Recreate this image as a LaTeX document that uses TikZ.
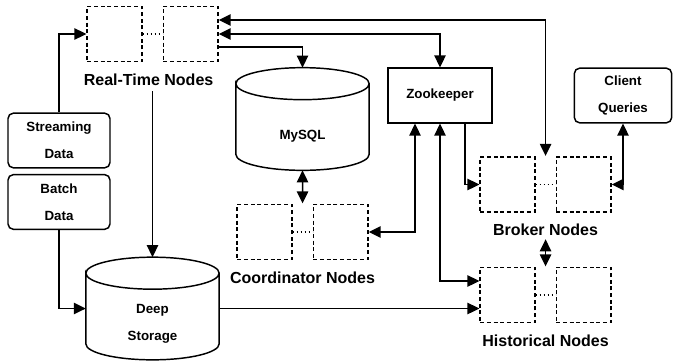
\documentclass[tikz,border=0pt]{standalone}
\usepackage{fontspec}
\setmainfont{Liberation Sans}
\usetikzlibrary{positioning, arrows.meta, calc, fit}

% draws a cylinder round an (empty) node
\newcommand{\drawcyl}[1]{%
  \draw[cylline] ($(#1.north west)+(0,-16)$) arc[start angle=180, end angle=-180, x radius=50pt, y radius=12pt]
    -- ($(#1.south west)+(0,16)$) arc[start angle=180, end angle=360, x radius=50pt, y radius=12pt]
    -- ($(#1.north east)+(0,-16)$);}

\begin{document}
\begin{tikzpicture}[
        x=0.75pt, y=0.75pt,
        node distance=15pt,
        thick,
        txt/.style={font=\bfseries\fontsize{10}{20}\selectfont, align=center},
        block/.style={txt, rectangle, draw, line width=1.1pt, minimum width=78pt, minimum height=41pt},
        source/.style={block, rounded corners=4pt, minimum width=76.5pt},
        server/.style={rectangle, draw, dashed, dash pattern=on 3pt off 2pt, line width=1.1pt, minimum width=41pt, minimum height=41pt},
        store/.style={rectangle, outer sep=0pt, minimum width=100pt, minimum height=77pt},
        cylline/.style={line width=1.1pt},
        group/.style={fit=#1, inner sep=0pt},
        lbl/.style={font=\bfseries\fontsize{12}{14}\selectfont, inner sep=0pt},
        dots/.style={draw, line width=1.1pt, dash pattern=on 1pt off 2pt},
        line/.style={draw, -{Triangle[length=9pt, width=8.5pt]}, line width=1.1pt},
        dline/.style={draw, {Triangle[length=9pt, width=8.5pt]}-{Triangle[length=9pt, width=8.5pt]}, line width=1.1pt}
    ]
        \useasboundingbox (0,0) rectangle (673,362);

        % Nodes
        \node [server] (rt1) at (114.5,328) {};
        \node [server, right=of rt1] (rt2) {};
        \node [group={(rt1)(rt2)}] (rt) {};
        \node [lbl, below=8pt of rt, xshift=-3pt] (rtlbl) {Real-Time Nodes};

        \node [source] (stream) at (59,221.5) {Streaming\\Data};
        \node [source, below=4pt of stream] (batch) {Batch\\Data};

        \node [store] (ds) at (152.5,53.5) {};
        \drawcyl{ds}
        \node [txt] (dstxt) at ($(ds.center)+(0,-15)$) {Deep\\Storage};

        \node [store] (my) at (302.5,243) {};
        \drawcyl{my}
        \node [txt] (mytxt) at ($(my.center)+(0,-17)$) {MySQL};

        \node [server] (c1) at (264.5,130) {};
        \node [server, right=of c1] (c2) {};
        \node [group={(c1)(c2)}] (crd) {};
        \node [lbl, below=8pt of crd] (crdlbl) {Coordinator Nodes};

        \node [block] (zk) at (440,266.5) {Zookeeper};
        \node [source, minimum width=73pt] (cq) at (623,266.5) {Client\\Queries};

        \node [server] (b1) at (507.5,177.5) {};
        \node [server, right=of b1] (b2) {};
        \node [group={(b1)(b2)}] (brk) {};
        \node [lbl, below=8pt of brk] (brklbl) {Broker Nodes};

        \node [server] (h1) at (507.5,67) {};
        \node [server, right=of h1] (h2) {};
        \node [group={(h1)(h2)}] (hst) {};
        \node [lbl, below=8pt of hst] (hstlbl) {Historical Nodes};

        % Edges
        \path [dots] (rt1) -- (rt2);
        \path [dots] (c1) -- (c2);
        \path [dots] (b1) -- (b2);
        \path [dots] (h1) -- (h2);

        \path [line] (stream.north) |- (rt1.west);
        \path [line] (batch.south) |- (ds.west);
        \path [line, shorten <=4pt] (rtlbl.south -| ds.north) -- (ds.north);
        \path [dline] (rt2.east) -| (zk.north);
        \path [dline] ($(rt2.east)+(0,14)$) -| (brk.north);
        \path [line] ($(rt2.east)+(0,-13)$) -| (my.north);
        \path [dline] (my.south) -- (crd.north);
        \path [dline] (c2.east) -| ($(zk.south)+(-25,0)$);
        \path [dline] (zk.south) |- ($(h1.west)+(0,14)$);
        \path [line] ($(zk.south)+(25,0)$) |- (b1.west);
        \path [dline] (b2.east) -| (cq.south);
        \path [dline, shorten <=2pt] (brklbl.south) -- (hst.north);
        \path [line] (ds.east) -- (ds.east -| h1.west);
    \end{tikzpicture}
\end{document}
